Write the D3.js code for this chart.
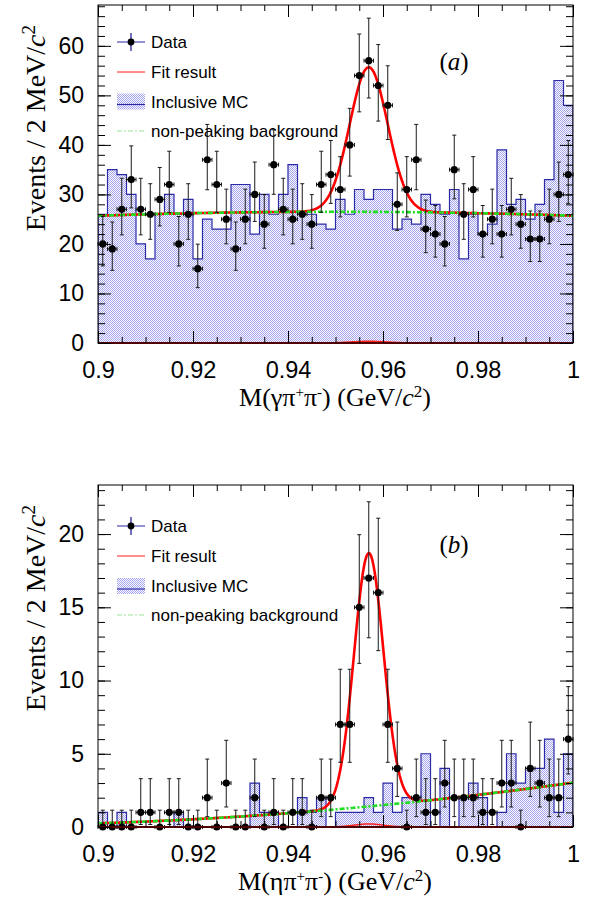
<!DOCTYPE html>
<html>
<head>
<meta charset="utf-8">
<script src="https://cdn.jsdelivr.net/npm/d3@7"></script>
<style>
body { margin: 0; background: #fff; }
text { font-family: "Liberation Sans", Arial, sans-serif; }
.serif { font-family: "Liberation Serif", "Times New Roman", serif; }
</style>
</head>
<body>
<svg id="chart" width="595" height="898"></svg>
<script>
// 2 MeV bins from 0.9 to 1.0 GeV
var binEdges = [0.9, 1.0];
var binWidth = 0.002;

// panel (a): M(gamma pi+ pi-)
var dataA = [20,19,27,33,27,26,29,32,20,26,15,37,32,25,19,25,30,24,36,27,
             25,26,24,32,34,31,40,54,57,52,48,28,31,37,23,22,20,35,26,31,
             22,25,22,27,24,21,21,25,30,34];
var mcA   = [26,35,34,30,20,17,26,30,26,29,17,25,23,23,32,32,22,30,26,30,
             36,26,26,24,23,29,26,31,29,31,31,23,25,24,30,28,26,31,17,26,
             22,24,39,28,29,25,28,33,53,48];
// fit: [mean, sigma, amplitude], background: [c0, c1, c2] in t=(m-0.9)/0.1
var fitA = [0.9570, 0.0040, 29.2];
var bkgA = [25.7, 3.2, -3.2];

// panel (b): M(eta pi+ pi-)
var dataB = [0,0,0,0,1,1,0,1,1,0,0,2,0,3,0,0,2,0,1,0,
             1,1,0,2,2,7,7,15,17,16,7,4,0,2,1,1,3,2,2,2,
             1,1,3,3,0,4,3,2,2,6];
var mcB   = [1,0,1,0,0,0,0,0,1,0,0,0,0,0,0,0,3,1,1,0,
             0,2,1,2,0,1,1,1,2,1,3,1,2,2,5,0,4,0,2,3,
             2,0,1,5,3,4,4,6,1,5];
var fitB = [0.9570, 0.0031, 17.3];
var bkgB = [0.25, 1.03, 1.75];

var legendLabels = ["Data", "Fit result", "Inclusive MC", "non-peaking background"];

var svg = d3.select("#chart");
var x = d3.scaleLinear().domain(binEdges).range([98, 573]);

var defs = svg.append("defs");
var pat = defs.append("pattern").attr("id", "dots")
  .attr("width", 2).attr("height", 2).attr("patternUnits", "userSpaceOnUse");
pat.append("rect").attr("x", 0).attr("y", 0).attr("width", 1).attr("height", 1).attr("fill", "#a4a4ee");
pat.append("rect").attr("x", 1).attr("y", 1).attr("width", 1).attr("height", 1).attr("fill", "#a4a4ee");

// poisson 68% central interval (as RooFit draws it)
function poisCdf(n, mu) {
  var t = Math.exp(-mu), s = t;
  for (var k = 1; k <= n; k++) { t *= mu / k; s += t; }
  return s;
}
function solveMu(n, p) {
  var lo = 0, hi = 200;
  for (var i = 0; i < 80; i++) {
    var m = (lo + hi) / 2;
    if (poisCdf(n, m) > p) lo = m; else hi = m;
  }
  return (lo + hi) / 2;
}
function poisInterval(n) {
  if (n === 0) return [0, -Math.log(1 - 0.6827)];
  return [solveMu(n - 1, 0.84134), solveMu(n, 0.15866)];
}

function drawPanel(cfg) {
  var y = d3.scaleLinear().domain([0, cfg.ymax]).range([cfg.bottom, cfg.top]);
  var g = svg.append("g");
  var clipId = "clip" + cfg.name;
  defs.append("clipPath").attr("id", clipId).append("rect")
    .attr("x", 98).attr("y", cfg.top).attr("width", 475).attr("height", cfg.bottom - cfg.top);

  var centers = cfg.data.map(function(d, i) { return binEdges[0] + (i + 0.5) * binWidth; });

  // inclusive MC histogram
  var step = [[binEdges[0], 0]];
  cfg.mc.forEach(function(v, i) {
    step.push([binEdges[0] + i * binWidth, v]);
    step.push([binEdges[0] + (i + 1) * binWidth, v]);
  });
  step.push([binEdges[1], 0]);
  var histLine = d3.line().x(function(d) { return x(d[0]); }).y(function(d) { return y(d[1]); });
  g.append("path").attr("d", histLine(step))
    .attr("fill", "url(#dots)").attr("stroke", "#2a2aa8").attr("stroke-width", 1.2)
    .attr("clip-path", "url(#" + clipId + ")");

  // fit curves
  function bkg(m) { var t = (m - 0.9) / 0.1; return cfg.bkg[0] + cfg.bkg[1] * t + cfg.bkg[2] * t * t; }
  function sig(m) { var z = (m - cfg.fit[0]) / cfg.fit[1]; return cfg.fit[2] * Math.exp(-0.5 * z * z); }
  var grid = d3.range(0, 401).map(function(i) { return binEdges[0] + i * (binEdges[1] - binEdges[0]) / 400; });
  var curve = d3.line().x(function(m) { return x(m); });

  // small peaking component near zero
  g.append("path").attr("d", curve.y(function(m) { return y(cfg.peakFrac * sig(m)); })(grid))
    .attr("fill", "none").attr("stroke", "#ff2020").attr("stroke-width", 1.5)
    .attr("clip-path", "url(#" + clipId + ")");
  g.append("path").attr("d", curve.y(function(m) { return y(bkg(m) + sig(m)); })(grid))
    .attr("fill", "none").attr("stroke", "#ff0000").attr("stroke-width", 2.6)
    .attr("clip-path", "url(#" + clipId + ")");
  g.append("path").attr("d", curve.y(function(m) { return y(bkg(m)); })(grid))
    .attr("fill", "none").attr("stroke", "#22dd22").attr("stroke-width", 2.6)
    .attr("stroke-dasharray", "5,2,2,2")
    .attr("clip-path", "url(#" + clipId + ")");

  // data points with error bars
  var pts = g.append("g").attr("stroke", "#1a1a1a").attr("stroke-width", 1);
  cfg.data.forEach(function(n, i) {
    var iv = poisInterval(n);
    var cx = x(centers[i]), cy = y(n);
    var x0 = x(centers[i] - binWidth / 2), x1 = x(centers[i] + binWidth / 2);
    pts.append("line").attr("x1", cx).attr("x2", cx).attr("y1", y(iv[0])).attr("y2", y(iv[1]));
    pts.append("line").attr("x1", cx - 2).attr("x2", cx + 2).attr("y1", y(iv[1])).attr("y2", y(iv[1]));
    pts.append("line").attr("x1", cx - 2).attr("x2", cx + 2).attr("y1", y(iv[0])).attr("y2", y(iv[0]));
    pts.append("line").attr("x1", x0).attr("x2", x1).attr("y1", cy).attr("y2", cy);
    pts.append("line").attr("x1", x0).attr("x2", x0).attr("y1", cy - 2).attr("y2", cy + 2);
    pts.append("line").attr("x1", x1).attr("x2", x1).attr("y1", cy - 2).attr("y2", cy + 2);
    pts.append("circle").attr("cx", cx).attr("cy", cy).attr("r", 3.6).attr("fill", "#000").attr("stroke", "none");
  });

  // bottom line (fit component at zero)
  g.append("line").attr("x1", 98).attr("x2", 573).attr("y1", cfg.bottom).attr("y2", cfg.bottom)
    .attr("stroke", "#a00000").attr("stroke-width", 2.2);

  // frame + axes
  g.append("rect").attr("x", 98).attr("y", cfg.top).attr("width", 475).attr("height", cfg.bottom - cfg.top)
    .attr("fill", "none").attr("stroke", "#000").attr("stroke-width", 1);

  var xMajor = d3.range(0, 6).map(function(i) { return 0.9 + i * 0.02; });
  var xMinor = d3.range(0, 21).map(function(i) { return 0.9 + i * 0.005; });
  var yMajor = d3.range(0, cfg.ymax, cfg.yStep);
  var yMinor = d3.range(0, cfg.ymax, cfg.yMinorStep);

  function addAxis(axis, tx, ty, labels) {
    var a = g.append("g").attr("transform", "translate(" + tx + "," + ty + ")").call(axis);
    a.select(".domain").remove();
    a.selectAll("line").attr("stroke", "#000");
    if (!labels) a.selectAll("text").remove();
    return a;
  }
  var bx = addAxis(d3.axisBottom(x).tickValues(xMajor).tickSize(-12).tickPadding(18)
    .tickFormat(function(d) { return d3.format(".2~f")(d); }), 0, cfg.bottom, true);
  bx.selectAll("text").attr("font-size", 23.5).attr("fill", "#000")
    .attr("font-family", "'Liberation Sans', Arial, sans-serif");
  addAxis(d3.axisBottom(x).tickValues(xMinor).tickSize(-6).tickFormat(""), 0, cfg.bottom, false);
  addAxis(d3.axisTop(x).tickValues(xMajor).tickSize(-12).tickFormat(""), 0, cfg.top, false);
  addAxis(d3.axisTop(x).tickValues(xMinor).tickSize(-6).tickFormat(""), 0, cfg.top, false);

  var ly = addAxis(d3.axisLeft(y).tickValues(yMajor).tickSize(-13).tickPadding(14), 98, 0, true);
  ly.selectAll("text").attr("font-size", 23).attr("fill", "#000")
    .attr("font-family", "'Liberation Sans', Arial, sans-serif");
  addAxis(d3.axisLeft(y).tickValues(yMinor).tickSize(-7).tickFormat(""), 98, 0, false);
  addAxis(d3.axisRight(y).tickValues(yMajor).tickSize(-13).tickFormat(""), 573, 0, false);
  addAxis(d3.axisRight(y).tickValues(yMinor).tickSize(-7).tickFormat(""), 573, 0, false);

  // axis titles
  var yt = g.append("text").attr("class", "serif")
    .attr("transform", "translate(45," + (cfg.top + 20) + ") rotate(-90)")
    .attr("text-anchor", "end").attr("font-size", 28);
  yt.append("tspan").text("Events / 2 MeV/");
  yt.append("tspan").attr("font-style", "italic").text("c");
  yt.append("tspan").attr("font-size", 19).attr("dy", -10).text("2");

  var xt = g.append("text").attr("class", "serif")
    .attr("x", 335).attr("y", cfg.bottom + 63).attr("text-anchor", "middle").attr("font-size", 26);
  xt.append("tspan").text("M(" + cfg.greek + "\u03c0");
  xt.append("tspan").attr("font-size", 15).attr("dy", -9).text("+");
  xt.append("tspan").attr("dy", 9).text("\u03c0");
  xt.append("tspan").attr("font-size", 15).attr("dy", -9).text("-");
  xt.append("tspan").attr("dy", 9).text(") (GeV/");
  xt.append("tspan").attr("font-style", "italic").text("c");
  xt.append("tspan").attr("font-size", 17).attr("dy", -9).text("2");
  xt.append("tspan").attr("dy", 9).text(")");

  // panel label
  var pl = g.append("text").attr("class", "serif").attr("x", 454).attr("y", cfg.top + cfg.labelDy)
    .attr("text-anchor", "middle").attr("font-size", 25);
  pl.append("tspan").text("(");
  pl.append("tspan").attr("font-style", "italic").text(cfg.label);
  pl.append("tspan").text(")");

  // legend
  var lg = g.append("g");
  var ys = cfg.legendY;
  lg.append("line").attr("x1", 117).attr("x2", 145).attr("y1", ys[0]).attr("y2", ys[0])
    .attr("stroke", "#7070c0").attr("stroke-width", 1.5);
  lg.append("line").attr("x1", 131).attr("x2", 131).attr("y1", ys[0] - 9).attr("y2", ys[0] + 9)
    .attr("stroke", "#101090").attr("stroke-width", 1.2);
  lg.append("circle").attr("cx", 131).attr("cy", ys[0]).attr("r", 3.4).attr("fill", "#000");
  lg.append("line").attr("x1", 117).attr("x2", 145).attr("y1", ys[1]).attr("y2", ys[1])
    .attr("stroke", "#ff2020").attr("stroke-width", 1);
  lg.append("rect").attr("x", 117).attr("y", ys[2] - 8).attr("width", 28).attr("height", 16)
    .attr("fill", "url(#dots)");
  lg.append("line").attr("x1", 117).attr("x2", 145).attr("y1", ys[2] + 3).attr("y2", ys[2] + 3)
    .attr("stroke", "#2a2aa8").attr("stroke-width", 1.2);
  lg.append("line").attr("x1", 117).attr("x2", 145).attr("y1", ys[3]).attr("y2", ys[3])
    .attr("stroke", "#99e699").attr("stroke-width", 1.2).attr("stroke-dasharray", "5,2,2,2");
  legendLabels.forEach(function(t, i) {
    lg.append("text").attr("x", 151).attr("y", ys[i] + 6).attr("font-size", 17).text(t);
  });
}

drawPanel({ name: "a", top: 5, bottom: 343, ymax: 68.25, yStep: 10, yMinorStep: 2,
  data: dataA, mc: mcA, fit: fitA, bkg: bkgA, peakFrac: 0.012, greek: "\u03b3", label: "a",
  labelDy: 65, legendY: [42, 72, 101.5, 131] });
drawPanel({ name: "b", top: 485, bottom: 827, ymax: 23.35, yStep: 5, yMinorStep: 1,
  data: dataB, mc: mcB, fit: fitB, bkg: bkgB, peakFrac: 0.012, greek: "\u03b7", label: "b",
  labelDy: 68, legendY: [526, 556, 586, 615] });
</script>
</body>
</html>
